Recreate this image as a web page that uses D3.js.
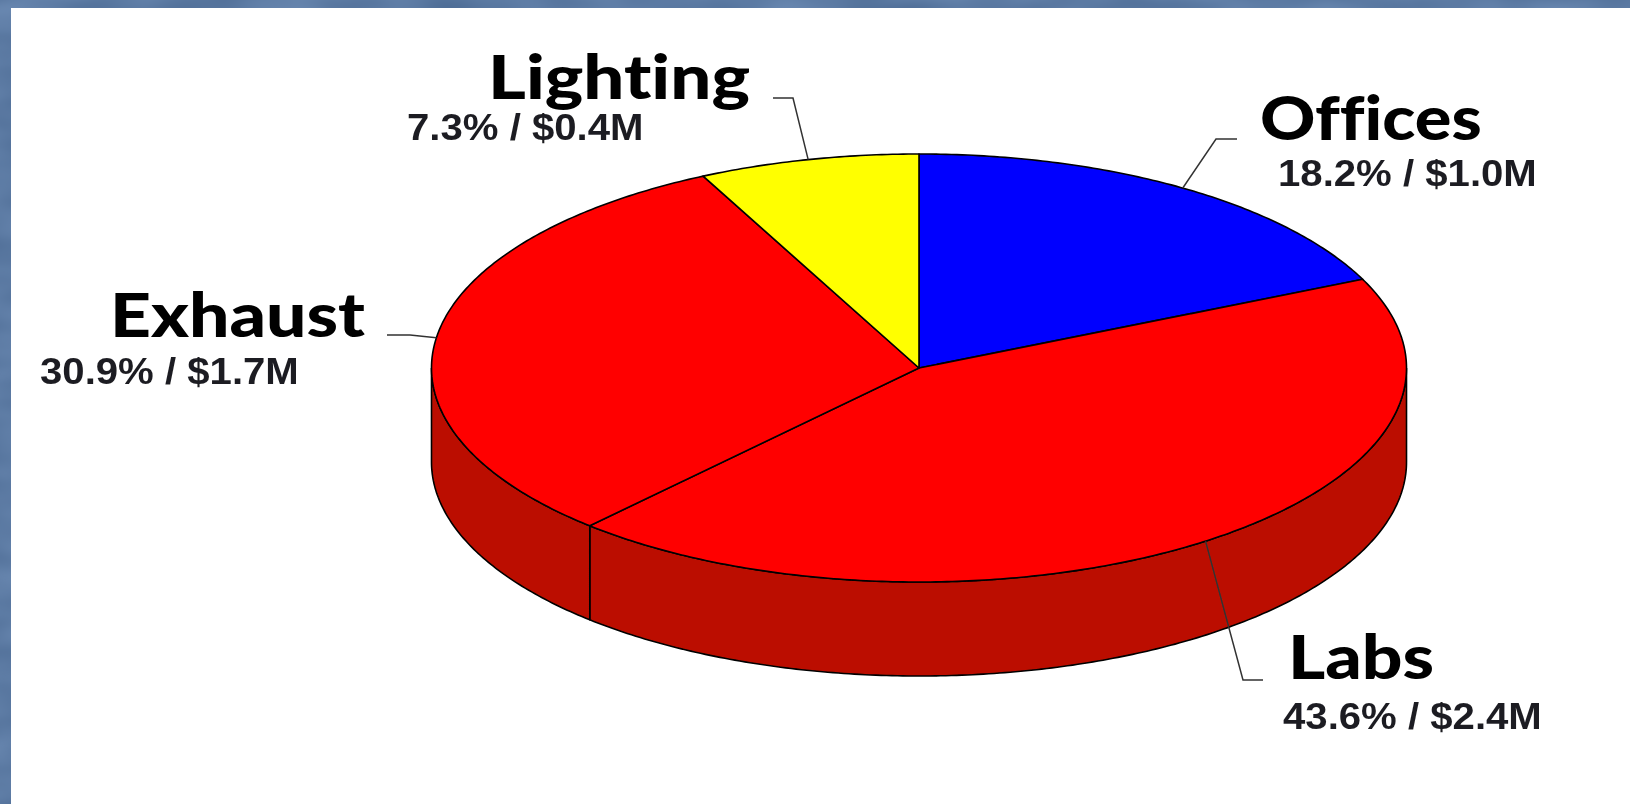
<!DOCTYPE html>
<html>
<head>
<meta charset="utf-8">
<script src="https://cdn.jsdelivr.net/npm/d3@7"></script>
<style>
    html, body { margin: 0; padding: 0; background: #fff; overflow: hidden; }
    svg { display: block; }
    .name { font-family: Lato, "Open Sans", sans-serif; font-weight: 900; font-size: 60px; fill: #000; font-variant-ligatures: none; }
    .detail { font-family: "Liberation Sans", Arial, sans-serif; font-weight: bold; font-size: 37px; fill: #1f1f24; }
</style>
</head>
<body>
<div id="chart"></div>
<script>
//---------------------- Data
const categories = ["Offices", "Labs", "Exhaust", "Lighting"]
const shares = [18.2, 43.6, 30.9, 7.3]
const dollars = [1.0, 2.4, 1.7, 0.4]
const topColors = ["#0000ff", "#ff0000", "#ff0000", "#ffff00"]
const wallColor = "#bb1100"

// where each label block sits
const labelLayout = {
    Offices: { nameX: 1260, nameY: 140, stretch: 1.14, detailX: 1278, detailY: 186, elbowX: 1216, elbowY: 139, endX: 1237 },
    Labs: { nameX: 1288, nameY: 679, stretch: 1.19, detailX: 1283, detailY: 729, elbowX: 1243, elbowY: 680, endX: 1263 },
    Exhaust: { nameX: 110, nameY: 337, stretch: 1.19, detailX: 40, detailY: 384, elbowX: 410, elbowY: 335, endX: 387 },
    Lighting: { nameX: 488, nameY: 99, stretch: 1.21, detailX: 407, detailY: 140, elbowX: 793, elbowY: 98, endX: 773 }
}

//---------------------- Dimensions
const dimensions = {
    width: 1630,
    height: 804,
    frameLeft: 11,
    frameTop: 8,
    cx: 919,
    cy: 368,
    rx: 487.5,
    ry: 214,
    depth: 94,
    detailStretch: 1.085
}

const wrapper = d3.select("#chart")
    .append("svg")
    .attr("width", dimensions.width)
    .attr("height", dimensions.height)

//---------------------- Slide background
const defs = wrapper.append("defs")

const texture = defs.append("filter")
    .attr("id", "slideTexture")
    .attr("color-interpolation-filters", "sRGB")
    .attr("x", 0).attr("y", 0).attr("width", 1).attr("height", 1)

texture.append("feTurbulence")
    .attr("type", "fractalNoise")
    .attr("baseFrequency", "0.012 0.03")
    .attr("numOctaves", 2)
    .attr("seed", 4)

texture.append("feColorMatrix")
    .attr("type", "matrix")
    .attr("values", "0.16 0 0 0 0.28  0.16 0 0 0 0.40  0.16 0 0 0 0.56  0 0 0 0 1")

// the source is a soft, rescaled screenshot
defs.append("filter")
    .attr("id", "soften")
    .attr("x", -0.02).attr("y", -0.02).attr("width", 1.04).attr("height", 1.04)
    .append("feGaussianBlur")
    .attr("stdDeviation", 0.6)

wrapper.append("rect")
    .attr("width", dimensions.width)
    .attr("height", dimensions.height)
    .attr("filter", "url(#slideTexture)")

wrapper.append("rect")
    .attr("x", dimensions.frameLeft)
    .attr("y", dimensions.frameTop)
    .attr("width", dimensions.width - dimensions.frameLeft)
    .attr("height", dimensions.height - dimensions.frameTop)
    .attr("fill", "#fff")

//---------------------- Scales (unit circle onto the tilted ellipse)
const xScale = d3.scaleLinear()
    .domain([-1, 1])
    .range([dimensions.cx - dimensions.rx, dimensions.cx + dimensions.rx])

const yScale = d3.scaleLinear()
    .domain([-1, 1])
    .range([dimensions.cy - dimensions.ry, dimensions.cy + dimensions.ry])

const rimX = a => xScale(Math.sin(a))
const rimY = a => yScale(-Math.cos(a))

const pie = d3.pie().sort(null)
const slices = pie(shares)

const anglesBetween = (a0, a1) => {
    const steps = Math.max(2, Math.ceil((a1 - a0) * 90))
    return d3.range(steps + 1).map(i => a0 + (a1 - a0) * i / steps)
}

//---------------------- Side wall (front half only)
const wallArea = d3.area()
    .x(rimX)
    .y0(rimY)
    .y1(a => rimY(a) + dimensions.depth)

const chartGroup = wrapper.append("g")
    .attr("filter", "url(#soften)")

slices.forEach(s => {
    const a0 = Math.max(s.startAngle, Math.PI / 2)
    const a1 = Math.min(s.endAngle, Math.PI * 1.5)
    if (a1 <= a0) return
    chartGroup.append("path")
        .attr("d", wallArea(anglesBetween(a0, a1)))
        .attr("fill", wallColor)
        .attr("stroke", "#000")
        .attr("stroke-width", 1.6)
})

//---------------------- Top face
const rimLine = d3.line()
    .x(d => d[0])
    .y(d => d[1])

slices.forEach((s, i) => {
    const points = anglesBetween(s.startAngle, s.endAngle).map(a => [rimX(a), rimY(a)])
    points.unshift([xScale(0), yScale(0)])
    chartGroup.append("path")
        .attr("d", rimLine(points) + "Z")
        .attr("fill", topColors[i])
        .attr("stroke", "#000")
        .attr("stroke-width", 1.6)
        .attr("stroke-linejoin", "round")
})

//---------------------- Leaders and labels
const percentFormat = d3.format(".1f")

slices.forEach((s, i) => {
    const place = labelLayout[categories[i]]
    const mid = (s.startAngle + s.endAngle) / 2

    chartGroup.append("path")
        .attr("d", rimLine([[rimX(mid), rimY(mid)], [place.elbowX, place.elbowY], [place.endX, place.elbowY]]))
        .attr("fill", "none")
        .attr("stroke", "#333")
        .attr("stroke-width", 1.5)

    chartGroup.append("text")
        .attr("class", "name")
        .attr("transform", `translate(${place.nameX},${place.nameY}) scale(${place.stretch},1)`)
        .text(categories[i])

    chartGroup.append("text")
        .attr("class", "detail")
        .attr("transform", `translate(${place.detailX},${place.detailY}) scale(${dimensions.detailStretch},1)`)
        .text(`${percentFormat(shares[i])}% / $${percentFormat(dollars[i])}M`)
})
</script>
</body>
</html>
